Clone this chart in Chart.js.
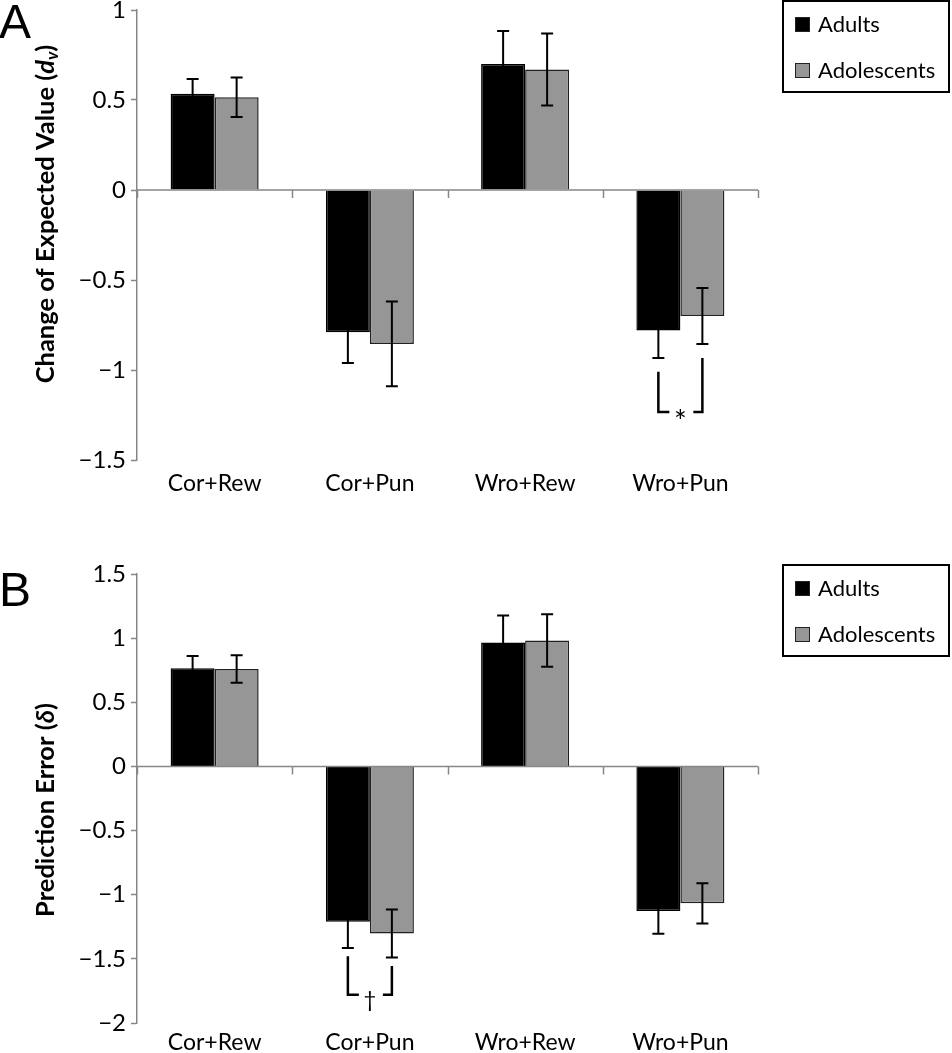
<!DOCTYPE html>
<html><head><meta charset="utf-8">
<script src="https://cdn.jsdelivr.net/npm/chart.js@4.4.0/dist/chart.umd.min.js"></script>
<style>html,body{margin:0;padding:0;background:#fff;overflow:hidden}.p{position:absolute;left:0}</style>
</head><body>
<div class="p" style="top:0"><canvas id="cA" width="952" height="526"></canvas></div>
<div class="p" style="top:526px"><canvas id="cB" width="952" height="527"></canvas></div>
<script>
// ---- data ----
const categories = ['Cor+Rew', 'Cor+Pun', 'Wro+Rew', 'Wro+Pun'];
const seriesNames = ['Adults', 'Adolescents'];

const adultsA    = [0.535, -0.79, 0.70, -0.78];
const adultsErrA = [0.082, 0.171, 0.183, 0.153];
const adolA      = [0.515, -0.855, 0.67, -0.70];
const adolErrA   = [0.11, 0.235, 0.20, 0.155];

const adultsB    = [0.765, -1.21, 0.967, -1.127];
const adultsErrB = [0.095, 0.205, 0.21, 0.178];
const adolB      = [0.76, -1.303, 0.982, -1.067];
const adolErrB   = [0.107, 0.187, 0.205, 0.157];

const yRangeA = [-1.5, 1];
const yRangeB = [-2, 1.5];
const yStep = 0.5;

const bracketA = {cat: 3, leftFrom: -1.01, rightFrom: -0.933, to: -1.233, mark: '*'};
const bracketB = {cat: 1, leftFrom: -1.479, rightFrom: -1.556, to: -1.78, mark: '\u2020'};

const titleA = [{t: 'Change of Expected Value ('}, {t: 'd', it: true}, {t: 'v', it: true, sub: true}, {t: ')'}];
const titleB = [{t: 'Prediction Error ('}, {t: '\u03B4', it: true}, {t: ')'}];

// ---- style ----
const FONT = 'Lato, "Open Sans", sans-serif';
const GRAY = '#969696';
const AXIS = '#878787';

const decor = {
  id: 'decor',
  afterDatasetsDraw(chart, args, o) {
    const ctx = chart.ctx, xs = chart.scales.x, ys = chart.scales.y, ca = chart.chartArea;
    ctx.save();
    // zero line and category ticks
    const y0 = ys.getPixelForValue(0);
    ctx.strokeStyle = AXIS; ctx.lineWidth = 1.5;
    ctx.beginPath();
    ctx.moveTo(ca.left, y0); ctx.lineTo(ca.right, y0);
    const n = chart.data.labels.length;
    for (let i = 0; i <= n; i++) {
      const x = Math.round(xs.getPixelForValue(i - 0.5)) + 0.5;
      ctx.moveTo(x, y0); ctx.lineTo(x, y0 + 8);
    }
    ctx.stroke();
    // error bars
    ctx.strokeStyle = '#000'; ctx.lineWidth = 2;
    chart.data.datasets.forEach((ds, di) => {
      chart.getDatasetMeta(di).data.forEach((el, j) => {
        const v = ds.data[j], e = ds.errors[j];
        const yt = ys.getPixelForValue(v + e), yb = ys.getPixelForValue(v - e);
        ctx.beginPath();
        ctx.moveTo(el.x, yt); ctx.lineTo(el.x, yb);
        ctx.moveTo(el.x - 6, yt); ctx.lineTo(el.x + 6, yt);
        ctx.moveTo(el.x - 6, yb); ctx.lineTo(el.x + 6, yb);
        ctx.stroke();
      });
    });
    // significance bracket
    const b = o.bracket;
    const xl = chart.getDatasetMeta(0).data[b.cat].x, xr = chart.getDatasetMeta(1).data[b.cat].x;
    const yl = ys.getPixelForValue(b.leftFrom), yr = ys.getPixelForValue(b.rightFrom), yb = ys.getPixelForValue(b.to);
    ctx.lineWidth = 2.5;
    ctx.beginPath();
    ctx.moveTo(xl, yl); ctx.lineTo(xl, yb); ctx.lineTo(xl + 11, yb);
    ctx.moveTo(xr, yr); ctx.lineTo(xr, yb); ctx.lineTo(xr - 9, yb);
    ctx.stroke();
    ctx.fillStyle = '#000'; ctx.textAlign = 'center'; ctx.textBaseline = 'middle';
    if (b.mark === '*') { ctx.font = '30px ' + FONT; ctx.fillText(b.mark, (xl + xr) / 2, yb + 10); }
    else { ctx.font = '22px ' + FONT; ctx.fillText(b.mark, (xl + xr) / 2, yb + 5); }
    // legend
    const lx = ca.right + 25, ly = ca.top - 9, lw = 166, lh = 91;
    ctx.lineWidth = 2; ctx.strokeStyle = '#000'; ctx.strokeRect(lx, ly, lw, lh);
    chart.data.datasets.forEach((ds, i) => {
      const cy = ly + 23 + 46 * i;
      ctx.fillStyle = ds.backgroundColor; ctx.fillRect(lx + 12, cy - 7, 15, 15);
      ctx.lineWidth = 1; ctx.strokeStyle = '#222'; ctx.strokeRect(lx + 12.5, cy - 6.5, 14, 14);
      ctx.fillStyle = '#000'; ctx.font = '22px ' + FONT; ctx.textAlign = 'left'; ctx.textBaseline = 'middle';
      ctx.fillText(ds.label, lx + 35, cy + 1);
    });
    // y axis title
    ctx.save();
    ctx.translate(o.title.cx, o.title.cy); ctx.rotate(-Math.PI / 2);
    const fnt = p => (p.it ? 'italic ' : '') + 'bold ' + (p.sub ? '17px ' : '25.5px ') + FONT;
    let total = 0;
    o.title.parts.forEach(p => { ctx.font = fnt(p); p.w = ctx.measureText(p.t).width; total += p.w; });
    let x = -total / 2;
    ctx.textAlign = 'left'; ctx.textBaseline = 'middle'; ctx.fillStyle = '#000';
    o.title.parts.forEach(p => { ctx.font = fnt(p); ctx.fillText(p.t, x, p.sub ? 7 : 0); x += p.w; });
    ctx.restore();
    // panel letter
    ctx.font = '48px "Liberation Sans", Arial, sans-serif'; ctx.textAlign = 'left'; ctx.textBaseline = 'alphabetic';
    ctx.fillText(o.letter, -1, o.letterY);
    ctx.restore();
  }
};

function makeChart(id, c) {
  return new Chart(document.getElementById(id), {
    type: 'bar',
    data: {
      labels: categories,
      datasets: [
        {label: seriesNames[0], data: c.adults, errors: c.adultsErr, backgroundColor: '#000', borderColor: '#000', borderWidth: 1.5, categoryPercentage: 0.567, barPercentage: 1},
        {label: seriesNames[1], data: c.adol, errors: c.adolErr, backgroundColor: GRAY, borderColor: '#222', borderWidth: 1.5, categoryPercentage: 0.567, barPercentage: 1}
      ]
    },
    options: {
      responsive: false, animation: false,
      layout: {padding: {left: 0, right: 194, top: c.padTop, bottom: 0}},
      plugins: {legend: {display: false}, tooltip: {enabled: false},
        decor: {bracket: c.bracket, title: {parts: c.title, cx: 46, cy: c.titleY}, letter: c.letter, letterY: c.letterY}},
      scales: {
        x: {
          grid: {display: false}, border: {display: false},
          ticks: {font: {family: FONT, size: 23}, color: '#000', padding: c.xPad, maxRotation: 0},
          afterFit: s => { s.height = c.xH; s.paddingLeft = 0; s.paddingRight = 0; }
        },
        y: {
          min: c.range[0], max: c.range[1],
          ticks: {stepSize: yStep, font: {family: FONT, size: 24}, color: '#000', padding: 5,
            callback: v => String(v).replace('-', '\u2212')},
          grid: {drawOnChartArea: false, tickLength: 6, tickColor: AXIS, tickWidth: 1.5},
          border: {color: AXIS, width: 1.5},
          afterFit: s => { s.width = 137; s.paddingTop = 0; s.paddingBottom = 0; }
        }
      }
    },
    plugins: [decor]
  });
}

makeChart('cA', {adults: adultsA, adultsErr: adultsErrA, adol: adolA, adolErr: adolErrA, range: yRangeA,
  padTop: 10, xH: 66, xPad: 2, bracket: bracketA, title: titleA, titleY: 214, letter: 'A', letterY: 38});
makeChart('cB', {adults: adultsB, adultsErr: adultsErrB, adol: adolB, adolErr: adolErrB, range: yRangeB,
  padTop: 48, xH: 30, xPad: -2, bracket: bracketB, title: titleB, titleY: 284, letter: 'B', letterY: 80});
</script>
</body></html>
